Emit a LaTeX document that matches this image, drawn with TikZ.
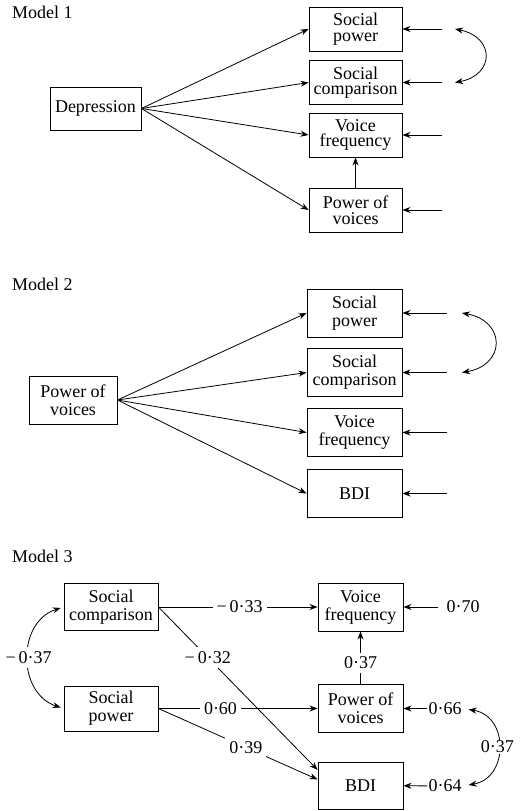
\documentclass[tikz,border=0pt]{standalone}
\usepackage{fontspec}
\setmainfont{Liberation Serif}
\usepackage{tikz}
\usetikzlibrary{arrows.meta}

\begin{document}
\begin{tikzpicture}[x=1pt,y=-1pt,
    box/.style={draw, line width=0.9pt, align=center, inner sep=2pt,
      font=\fontsize{18}{18}\selectfont},
    boxa/.style={box, font=\fontsize{18}{15.5}\selectfont,
      minimum width=93pt, minimum height=44pt},
    boxb/.style={box, minimum width=95pt, minimum height=48pt},
    boxc/.style={box, minimum width=85pt, minimum height=48pt},
    title/.style={anchor=base west, inner sep=0pt, font=\fontsize{18}{18}\selectfont},
    lbl/.style={fill=white, inner sep=4pt, font=\fontsize{18}{18}\selectfont},
    resl/.style={inner sep=1pt, font=\fontsize{18}{18}\selectfont},
    arr/.style={-{Stealth[length=8pt,width=6pt]}, line width=0.8pt},
    dbl/.style={{Stealth[length=8pt,width=6pt]}-{Stealth[length=8pt,width=6pt]}, line width=0.8pt}]

  % Canvas
  \useasboundingbox (0,0) rectangle (532,811);

  % ---------------- Model 1 ----------------
  \node[title] (t1) at (12,18) {Model 1};
  \node[boxa, minimum width=91pt, minimum height=43pt] (dep) at (95.5,108.5) {Depression};
  \node[boxa] (sp1) at (355.5,29) {Social\\power};
  \node[boxa] (sc1) at (355.5,82.5) {Social\\comparison};
  \node[boxa] (vf1) at (355.5,135) {Voice\\frequency};
  \node[boxa] (pv1) at (355.5,210) {Power of\\voices};

  % paths from depression
  \foreach \n in {sp1,sc1,vf1,pv1} {
    \draw[arr] (dep.east) -- (\n.west);
  }
  \draw[arr] (pv1) -- (vf1);

  % residuals
  \foreach \n/\y in {sp1/29, sc1/82.5, vf1/135, pv1/210} {
    \coordinate (e\n) at (442,\y);
    \draw[arr] (e\n) -- (\n.east);
  }
  \coordinate (c1a) at (455,29);
  \coordinate (c1b) at (455,82.5);
  \draw[dbl] (c1a) .. controls (495,37) and (495,75) .. (c1b);

  % ---------------- Model 2 ----------------
  \node[title] (t2) at (12,290) {Model 2};
  \node[boxb, minimum width=88pt] (pv2) at (73,400) {Power of\\voices};
  \node[boxb] (sp2) at (354.5,313) {Social\\power};
  \node[boxb] (sc2) at (354.5,372.5) {Social\\comparison};
  \node[boxb] (vf2) at (354.5,432.5) {Voice\\frequency};
  \node[boxb] (bdi2) at (354.5,493.5) {BDI};

  % paths from power of voices
  \foreach \n in {sp2,sc2,vf2,bdi2} {
    \draw[arr] (pv2.east) -- (\n.west);
  }

  % residuals
  \foreach \n/\y in {sp2/313, sc2/372.5, vf2/432.5, bdi2/493.5} {
    \coordinate (e\n) at (447,\y);
    \draw[arr] (e\n) -- (\n.east);
  }
  \coordinate (c2a) at (462,313);
  \coordinate (c2b) at (462,372.5);
  \draw[dbl] (c2a) .. controls (506,321) and (506,365) .. (c2b);

  % ---------------- Model 3 ----------------
  \node[title] (t3) at (12,562) {Model 3};
  \node[boxc, minimum width=94pt, minimum height=47pt] (sc3) at (111,607) {Social\\comparison};
  \node[boxc, minimum width=94pt, minimum height=45pt] (sp3) at (111,708.5) {Social\\power};
  \node[boxc] (vf3) at (360.5,607) {Voice\\frequency};
  \node[boxc] (pv3) at (360.5,708.5) {Power of\\voices};
  \node[boxc, minimum height=47pt] (bdi3) at (360.5,785.5) {BDI};

  % path coefficients
  \draw[arr] (sc3.east) -- node[lbl, pos=0.51] {−\,0·33} (vf3.west);
  \draw[arr] (sc3.east) -- node[lbl, pos=0.31] {−\,0·32} (bdi3.160);
  \draw[arr] (sp3.east) -- node[lbl, pos=0.39] {0·60} (pv3.west);
  \draw[arr] (sp3.east) -- node[lbl, pos=0.55] {0·39} (bdi3.172);
  \draw[arr] (pv3) -- node[lbl, pos=0.4] {0·37} (vf3);

  % correlation of exogenous variables
  \draw[dbl, shorten <=3pt, shorten >=3pt] (sc3.west) .. controls (17,622) and (17,693) ..
    node[lbl] {−\,0·37} (sp3.west);

  % residuals
  \node[resl, inner sep=8pt] (r70) at (463,607) {0·70};
  \node[resl] (r66) at (445,708.5) {0·66};
  \node[resl] (r64) at (445,786) {0·64};
  \draw[arr] (r70) -- (vf3);
  \draw[arr] (r66) -- (pv3);
  \draw[arr] (r64) -- (bdi3);
  \draw[dbl, shorten <=6pt, shorten >=6pt] (r66.east) .. controls (509,716) and (509,778) ..
    node[lbl, inner sep=1pt] {0·37} (r64.east);

\end{tikzpicture}
\end{document}
